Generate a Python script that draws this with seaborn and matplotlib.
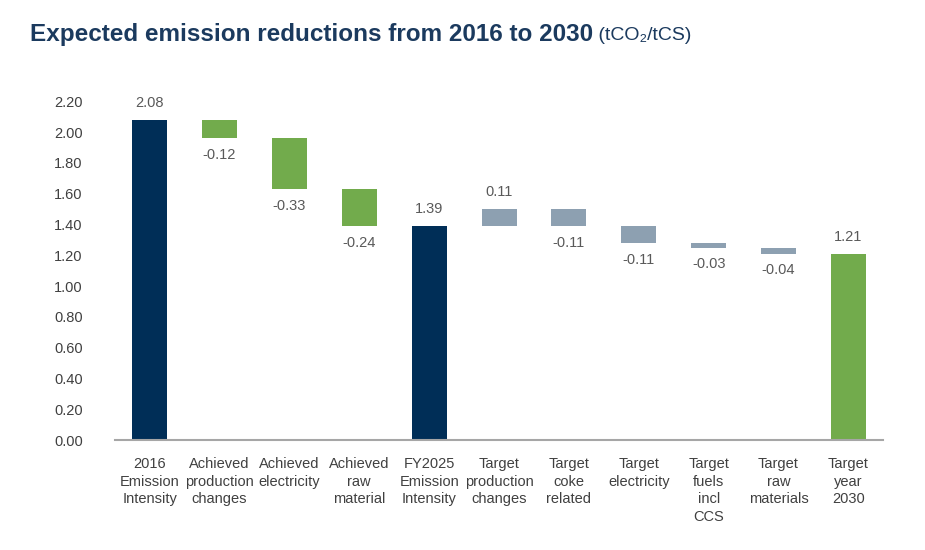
import numpy as np
import pandas as pd
import matplotlib
matplotlib.use("Agg")
import matplotlib.pyplot as plt
import seaborn as sns

# waterfall steps
steps = [
    "2016\nEmission\nIntensity", "Achieved\nproduction\nchanges", "Achieved\nelectricity",
    "Achieved\nraw\nmaterial", "FY2025\nEmission\nIntensity", "Target\nproduction\nchanges",
    "Target\ncoke\nrelated", "Target\nelectricity", "Target\nfuels\nincl\nCCS",
    "Target\nraw\nmaterials", "Target\nyear\n2030",
]
values = [2.08, -0.12, -0.33, -0.24, 1.39, 0.11, -0.11, -0.11, -0.03, -0.04, 1.21]
is_total = [True, False, False, False, True, False, False, False, False, False, True]
groups = ["total", "achieved", "achieved", "achieved", "total", "target",
          "target", "target", "target", "target", "final"]

colors = {"total": "#002E57", "achieved": "#72AB4C", "target": "#8DA0B1", "final": "#72AB4C"}

# running totals -> floating bars
bottoms, heights = [], []
run = 0.0
for v, tot in zip(values, is_total):
    if tot:
        bottoms.append(0.0)
        heights.append(v)
        run = v
    elif v < 0:
        bottoms.append(run + v)
        heights.append(-v)
        run = run + v
    else:
        bottoms.append(run)
        heights.append(v)
        run = run + v

df = pd.DataFrame({"step": steps, "height": heights, "bottom": bottoms,
                   "value": values, "group": groups})

sns.set_style("white")
plt.rcParams["font.family"] = ["Liberation Sans", "DejaVu Sans"]

fig = plt.figure(figsize=(9.25, 5.5), dpi=100)
ax = fig.add_axes([0.124, 0.2, 0.831, 0.616])

sns.barplot(data=df, x="step", y="height", bottom=df["bottom"].values,
            width=0.5, ax=ax, errorbar=None, saturation=1, color="#002E57")
for p, g in zip(ax.patches, df["group"]):
    p.set_facecolor(colors[g])
    p.set_edgecolor("none")

for i, row in df.iterrows():
    if row["value"] < 0:
        ax.annotate(f"{row['value']:.2f}", (i, row["bottom"]), xytext=(0, -7),
                    textcoords="offset points", ha="center", va="top",
                    fontsize=10.5, color="#595959")
    else:
        ax.annotate(f"{row['value']:.2f}", (i, row["bottom"] + row["height"]), xytext=(0, 7),
                    textcoords="offset points", ha="center", va="bottom",
                    fontsize=10.5, color="#595959")

ax.set_ylim(0, 2.2)
ax.set_xlim(-0.5, len(steps) - 0.5)
ticks = np.arange(0, 2.21, 0.2)
ax.set_yticks(ticks)
ax.set_yticklabels([f"{t:.2f}" for t in ticks])
ax.set_xlabel("")
ax.set_ylabel("")
ax.tick_params(axis="y", length=0, pad=23, labelsize=10.5, labelcolor="#404040")
ax.tick_params(axis="x", length=0, pad=12, labelcolor="#404040")
for lbl in ax.get_xticklabels():
    lbl.set_fontsize(10.5)
    lbl.set_linespacing(1.35)
    lbl.set_verticalalignment("top")

for s in ["top", "right", "left"]:
    ax.spines[s].set_visible(False)
ax.spines["bottom"].set_color("#A6A6A6")
ax.spines["bottom"].set_linewidth(1.5)

t1 = fig.text(30 / 925, 1 - 34 / 550, "Expected emission reductions from 2016 to 2030",
              fontsize=17.5, fontweight="bold", color="#1B3A5E", va="center")
ax.annotate(" (tCO\u2082/tCS)", xy=(1, 0.45), xycoords=t1, va="center", ha="left",
            fontsize=14, color="#1B3A5E")

fig.savefig("out.png", dpi=100)
